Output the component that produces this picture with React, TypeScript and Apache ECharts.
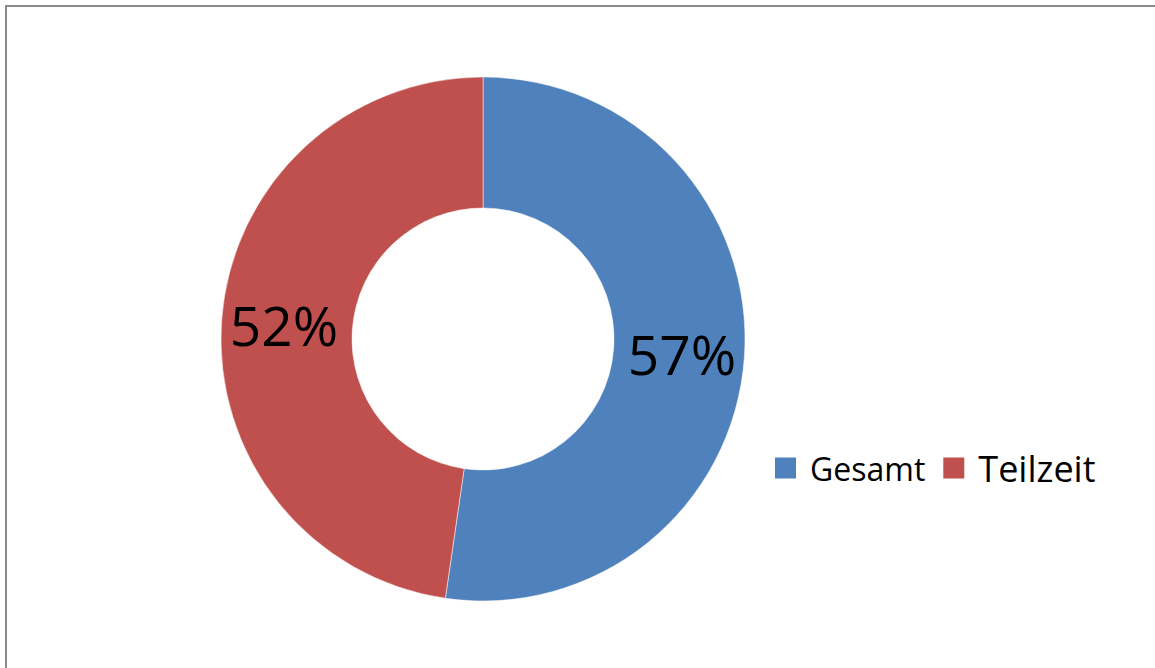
import React, { useEffect, useRef } from "react";
import * as echarts from "echarts";

const categories = ["Gesamt", "Teilzeit"];
const values = [57, 52];
const colors = ["#4F81BD", "#C0504D"];
const legendFontSizes = [32, 36];

export default function App() {
  const ref = useRef<HTMLDivElement>(null);
  useEffect(() => {
    if (!ref.current) return;
    const chart = echarts.init(ref.current, null, { renderer: "svg" });
    chart.setOption({
      animation: false,
      color: colors,
      textStyle: { fontFamily: "Open Sans" },
      graphic: [
        {
          type: "rect",
          shape: { x: 6, y: 6, width: 1300, height: 800 },
          style: { fill: "none", stroke: "#8a8a8a", lineWidth: 2 },
          silent: true,
        },
      ],
      legend: {
        left: 768,
        top: 445,
        icon: "rect",
        itemWidth: 23,
        itemHeight: 23,
        itemGap: 16,
        textStyle: { color: "#000", fontFamily: "Open Sans", padding: [0, 0, 0, 8] },
        data: categories.map((c, i) => ({
          name: c,
          textStyle: { fontSize: legendFontSizes[i] },
        })),
      },
      series: [
        {
          type: "pie",
          center: [483, 339],
          radius: [131, 262],
          startAngle: 90,
          clockwise: true,
          label: {
            show: true,
            position: "inside",
            formatter: "{c}%",
            color: "#000",
            fontSize: 55,
            fontFamily: "Open Sans",
          },
          labelLine: { show: false },
          itemStyle: { borderColor: "#fff", borderWidth: 0.5 },
          data: categories.map((c, i) => ({ name: c, value: values[i] })),
        },
      ],
    });
    return () => chart.dispose();
  }, []);
  return (
    <div
      ref={ref}
      style={{ position: "absolute", left: 0, top: 0, width: 1155, height: 668 }}
    />
  );
}
